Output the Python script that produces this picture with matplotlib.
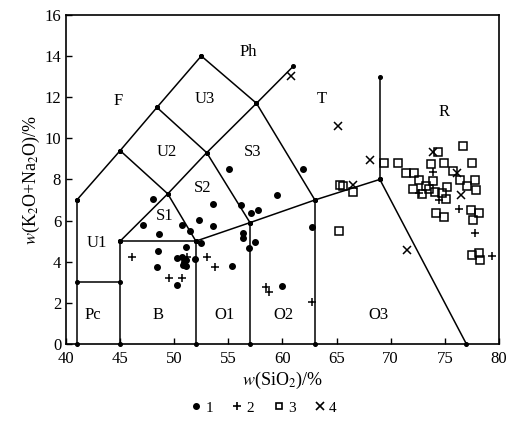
import numpy as np
import matplotlib.pyplot as plt
from matplotlib.lines import Line2D

plt.rcParams['font.family'] = ['Liberation Serif', 'DejaVu Serif']
plt.rcParams['mathtext.fontset'] = 'stix'

# TAS boundary polylines (SiO2, K2O+Na2O)
boundaries = [
    [(41, 0), (41, 7)],
    [(41, 3), (45, 3)],
    [(45, 0), (45, 5)],
    [(45, 5), (52, 5)],
    [(52, 0), (52, 5)],
    [(52, 5), (57, 5.9), (63, 7), (69, 8)],
    [(57, 0), (57, 5.9)],
    [(63, 0), (63, 7)],
    [(69, 8), (77, 0)],
    [(69, 8), (69, 13)],
    [(45, 5), (49.4, 7.3), (53, 9.3), (57.6, 11.7), (61, 13.5)],
    [(41, 7), (45, 9.4), (48.4, 11.5), (52.5, 14)],
    [(52.5, 14), (57.6, 11.7), (63, 7)],
    [(45, 9.4), (49.4, 7.3), (52, 5)],
    [(48.4, 11.5), (53, 9.3), (57, 5.9)],
]

field_names = ['Pc', 'B', 'O1', 'O2', 'O3', 'U1', 'S1', 'S2', 'S3',
               'U2', 'U3', 'F', 'Ph', 'T', 'R']
field_x = [42.5, 48.5, 54.6, 60.1, 68.9, 42.8, 49.1, 52.6, 57.2,
           49.3, 52.8, 44.8, 56.8, 63.6, 74.9]
field_y = [1.4, 1.4, 1.4, 1.4, 1.4, 4.9, 6.2, 7.6, 9.35,
           9.35, 11.9, 11.8, 14.2, 11.9, 11.3]

# sample group 1 (dots)
g1_x = [47.1, 48.0, 48.6, 48.5, 48.4, 50.7, 51.5, 51.1, 52.3, 53.6, 53.6,
        52.5, 55.3, 50.3, 56.2, 57.1, 57.7, 56.4, 56.4, 57.5, 56.9, 59.5,
        55.1, 61.9, 62.7, 60.0, 50.3, 50.7, 51.1, 50.8, 51.1, 51.9, 50.9]
g1_y = [5.8, 7.05, 5.35, 4.52, 3.74, 5.79, 5.5, 4.73, 6.03, 6.79, 5.75,
        4.93, 3.79, 2.87, 6.76, 6.37, 6.5, 5.4, 5.15, 4.98, 4.67, 7.25,
        8.5, 8.5, 5.71, 2.8, 4.2, 4.25, 4.08, 3.84, 3.79, 4.15, 4.0]
# group 2 (plus)
g2_x = [46.1, 49.5, 50.7, 53.0, 53.8, 51.2, 58.5, 58.8, 62.7, 73.9,
        76.3, 77.8, 79.4, 72.6, 74.5]
g2_y = [4.21, 3.19, 3.19, 4.21, 3.76, 4.21, 2.79, 2.54, 2.02, 8.35,
        6.56, 5.41, 4.28, 7.33, 7.0]
# group 3 (squares)
g3_x = [69.4, 70.7, 71.4, 72.2, 73.7, 74.9, 76.7, 77.5, 74.4, 65.3, 65.6,
        66.5, 65.2, 72.1, 72.6, 73.3, 73.9, 74.1, 75.2, 74.7, 75.1, 75.8,
        76.4, 77.1, 77.8, 77.9, 74.2, 74.9, 77.4, 78.2, 77.6, 77.5, 78.2,
        78.3, 72.9, 73.5]
g3_y = [8.82, 8.82, 8.33, 8.3, 8.75, 8.82, 9.63, 8.79, 9.35, 7.73, 7.66,
        7.37, 5.5, 7.52, 7.95, 7.68, 7.9, 7.41, 7.62, 7.33, 7.04, 8.39,
        7.98, 7.66, 7.95, 7.49, 6.39, 6.16, 6.51, 6.36, 6.03, 4.33, 4.41,
        4.09, 7.3, 7.55]
# group 4 (crosses)
g4_x = [60.8, 65.1, 68.1, 66.5, 73.9, 76.1, 76.5, 71.5]
g4_y = [13.03, 10.6, 8.95, 7.73, 9.35, 8.3, 7.25, 4.57]


def main():
    fig = plt.figure(figsize=(5.08, 4.36), dpi=100)
    ax = fig.add_axes([0.130, 0.211, 0.852, 0.755])

    # field boundaries with small dots at the vertices
    for seg in boundaries:
        xs = [p[0] for p in seg]
        ys = [p[1] for p in seg]
        ax.plot(xs, ys, color='black', lw=1.1, marker='o', ms=2.6,
                clip_on=False, zorder=2)

    for name, x, y in zip(field_names, field_x, field_y):
        ax.text(x, y, name, fontsize=12, ha='center', va='center')

    ax.plot(g1_x, g1_y, 'o', color='black', ms=4, ls='none')
    ax.plot(g2_x, g2_y, '+', color='black', ms=6, mew=1.1, ls='none')
    ax.plot(g3_x, g3_y, 's', mfc='none', mec='black', ms=5.2, mew=1.1,
            ls='none')
    ax.plot(g4_x, g4_y, 'x', color='black', ms=5.2, mew=1.1, ls='none')

    ax.set_xlim(40, 80)
    ax.set_ylim(0, 16)
    ax.set_xticks(range(40, 81, 5))
    ax.set_yticks(range(0, 17, 2))
    ax.tick_params(direction='in', length=4, labelsize=12, width=1)
    ax.tick_params(axis='x', pad=5)
    for s in ax.spines.values():
        s.set_linewidth(1.2)

    ax.set_xlabel(r'$w$(SiO$_2$)/%', fontsize=13, labelpad=2)
    ax.set_ylabel(r'$w$(K$_2$O+Na$_2$O)/%', fontsize=13, labelpad=2)

    handles = [
        Line2D([], [], marker='o', color='black', ms=4, ls='none'),
        Line2D([], [], marker='+', color='black', ms=6, mew=1.2, ls='none'),
        Line2D([], [], marker='s', mfc='none', mec='black', ms=5, mew=1.2,
               ls='none'),
        Line2D([], [], marker='x', color='black', ms=5.5, mew=1.2, ls='none'),
    ]
    fig.legend(handles, ['1', '2', '3', '4'], loc='center',
               bbox_to_anchor=(0.52, 0.065), ncol=4, frameon=False,
               fontsize=11, handlelength=0.6, handletextpad=0.3,
               columnspacing=1.3)

    fig.savefig('out.png', dpi=100)


if __name__ == '__main__':
    main()
